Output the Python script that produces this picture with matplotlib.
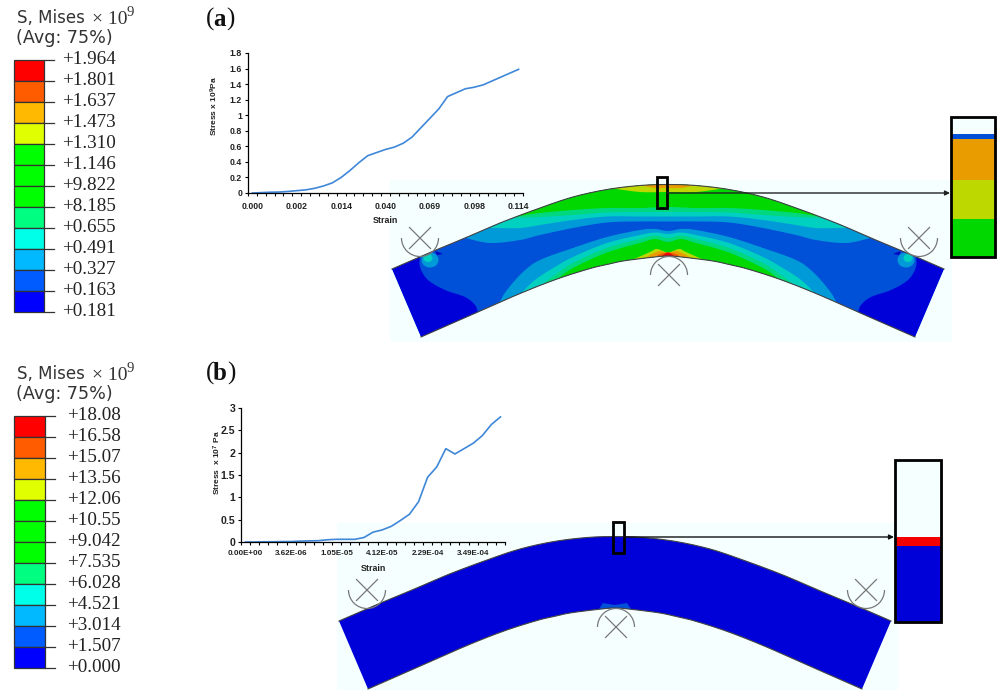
"""
Von Mises contour plots of the bent beam, with stress-strain insets
"""
import matplotlib
matplotlib.use('Agg')
import numpy as np
import matplotlib.pyplot as plt
import matplotlib.patches as patches

W, H = 998, 690

# ---- curve (a)
strain_a_ticks = ['0.000', '0.002', '0.014', '0.040', '0.069', '0.098', '0.114']
stress_a = [0.00, 0.005, 0.01, 0.012, 0.02, 0.03, 0.04, 0.06, 0.09, 0.13, 0.20,
            0.29, 0.39, 0.48, 0.52, 0.56, 0.59, 0.64, 0.72, 0.84, 0.96, 1.08,
            1.24, 1.29, 1.34, 1.36, 1.39, 1.44, 1.49, 1.54, 1.59]
yticks_a = [0, 0.2, 0.4, 0.6, 0.8, 1, 1.2, 1.4, 1.6, 1.8]

# ---- curve (b)
strain_b_ticks = ['0.00E+00', '3.62E-06', '1.05E-05', '4.12E-05', '2.29E-04', '3.49E-04']
stress_b = [0.0, 0.0, 0.005, 0.005, 0.01, 0.01, 0.02, 0.025, 0.03, 0.05, 0.06,
            0.06, 0.06, 0.10, 0.22, 0.27, 0.35, 0.48, 0.62, 0.90, 1.45, 1.68,
            2.09, 1.97, 2.09, 2.21, 2.38, 2.63, 2.80]
yticks_b = [0, 0.5, 1, 1.5, 2, 2.5, 3]

# ---- legends
labels_a = ['+1.964', '+1.801', '+1.637', '+1.473', '+1.310', '+1.146', '+9.822',
            '+8.185', '+0.655', '+0.491', '+0.327', '+0.163', '+0.181']
labels_b = ['+18.08', '+16.58', '+15.07', '+13.56', '+12.06', '+10.55', '+9.042',
            '+7.535', '+6.028', '+4.521', '+3.014', '+1.507', '+0.000']
legend_colors = ['#ff0000', '#ff5c00', '#ffb900', '#e0ff00', '#00ff00', '#00ff00',
                 '#00ff00', '#00ff80', '#00ffe8', '#00b9ff', '#005cff', '#0000ff']

# ---- beam outline, left half, image pixels of panel (a); right half is the mirror
CX = 668
top_edge = [(392, 269), (430, 252.5), (465, 238), (500, 223), (540, 208), (573, 197),
            (607, 189.5), (640, 185.5), (668, 184.5)]
bottom_edge = [(421, 337), (478, 312), (520, 293.5), (557, 279), (590, 268.5), (607, 264.5),
               (623, 261), (650, 257.5), (668, 256)]

# contour bands seen in the picture: boundary line, colour
upper_bands = [
    ([(465, 238), (490, 243), (520, 240), (540, 235), (573, 228), (607, 222.5), (640, 221.5),
      (668, 221.5)], '#009ad8'),
    ([(490, 228), (520, 228), (540, 225), (573, 220), (607, 216.5), (640, 216.5), (668, 216.5)], '#00d0c0'),
    ([(512, 218), (540, 217), (573, 215), (607, 212.5), (640, 212), (668, 212)], '#00d880'),
    ([(520, 216), (540, 213), (573, 210), (607, 208), (640, 208), (668, 207)], '#00d800'),
    ([(610, 188), (640, 192), (668, 192)], '#bcd800'),
    ([(640, 185), (655, 188), (668, 188)], '#e89c00'),
]
lower_bands = [
    ([(499, 303), (507, 290), (523, 272), (540, 260), (573, 248), (607, 237), (640, 230),
      (655, 229), (668, 231)], '#009ad8'),
    ([(520, 294), (535, 280), (550, 270), (573, 257), (607, 243), (640, 235), (655, 232.5),
      (668, 234)], '#00d0c0'),
    ([(540, 286), (555, 275), (573, 263), (607, 248), (640, 239), (655, 235.5), (668, 238)], '#00d880'),
    ([(557, 279), (573, 268), (607, 252.5), (640, 243), (655, 239), (668, 242)], '#00d800'),
    ([(632, 260), (650, 252), (657, 249), (668, 252.5)], '#bcd800'),
    ([(645, 258), (652, 254), (660, 251), (668, 253)], '#e89c00'),
    ([(654, 258), (660, 254), (668, 252.5)], '#f05a00'),
    ([(660, 258), (664, 254.5), (668, 252.5)], '#f00000'),
]
dark_curve = [(420, 255), (420, 267), (428, 280), (445, 290), (465, 297), (475, 305), (478, 313)]
streak = [(435, 251), (443, 254), (437, 255)]

plt.rcParams['font.family'] = ['DejaVu Sans']
plt.rcParams['mathtext.default'] = 'regular'
fig = plt.figure(figsize=(W / 100, H / 100), dpi=100, facecolor='white')

ax = fig.add_axes([0, 0, 1, 1])
ax.set_xlim(0, W)
ax.set_ylim(H, 0)
ax.axis('off')


def mirror(pts):
    return [(2 * CX - x, y) for x, y in pts]


def shift(pts, dx, dy):
    return [(x + dx, y + dy) for x, y in pts]


# catmull-rom, only to round the traced outlines
def smooth(pts, n=10):
    p = np.array(pts, dtype=float)
    p = np.vstack([2 * p[0] - p[1], p, 2 * p[-1] - p[-2]])
    out = []
    for i in range(1, len(p) - 2):
        for t in np.linspace(0, 1, n, endpoint=False):
            out.append(0.5 * (2 * p[i] + (p[i + 1] - p[i - 1]) * t
                              + (2 * p[i - 1] - 5 * p[i] + 4 * p[i + 1] - p[i + 2]) * t ** 2
                              + (3 * p[i] - p[i - 1] - 3 * p[i + 1] + p[i + 2]) * t ** 3))
    out.append(p[-2])
    return [tuple(q) for q in out]


def full_arc(half):
    return smooth(half + mirror(half)[::-1][1:])


def draw_region(boundary, close_y, color, clip):
    pts = full_arc(boundary)
    pts = pts + [(pts[-1][0], close_y), (pts[0][0], close_y)]
    p = patches.Polygon(pts, closed=True, facecolor=color, edgecolor='none', zorder=3)
    ax.add_patch(p)
    p.set_clip_path(clip)


def draw_support(x, y, upward):
    t1, t2 = (180, 360) if upward else (0, 180)
    ax.add_patch(patches.Arc((x, y), 37, 37, theta1=t1, theta2=t2, color='#777777', lw=0.9, zorder=5))
    ax.plot([x - 10.5, x + 10.5], [y - 10.5, y + 10.5], color='#777777', lw=0.9, zorder=5)
    ax.plot([x - 10.5, x + 10.5], [y + 10.5, y - 10.5], color='#777777', lw=0.9, zorder=5)


def draw_beam(dx, dy, detailed):
    top = full_arc(top_edge)
    bottom = full_arc(bottom_edge)
    base = '#0050d8' if detailed else '#0000d8'
    beam = patches.Polygon(shift(top + bottom[::-1], dx, dy), closed=True, facecolor=base,
                           edgecolor='none', zorder=2)
    ax.add_patch(beam)
    if detailed:
        for boundary, color in upper_bands:
            draw_region(boundary, 100, color, beam)
        for boundary, color in lower_bands:
            draw_region(boundary, 400, color, beam)
        dark_end = [(392, 269)] + smooth(dark_curve) + [(421, 337)]
        for pts in (dark_end, mirror(dark_end)):
            p = patches.Polygon(pts, closed=True, facecolor='#0000d8', edgecolor='none', zorder=3)
            ax.add_patch(p)
            p.set_clip_path(beam)
        for sx, sign in ((430, 1), (906, -1)):
            for ex, ey, ew, eh, color in ((sx, 260, 17, 15, '#009ad8'),
                                          (sx - 2 * sign, 258, 9, 8, '#00d0c0')):
                e = patches.Ellipse((ex, ey), ew, eh, facecolor=color, edgecolor='none', zorder=3)
                ax.add_patch(e)
                e.set_clip_path(beam)
        for pts in (streak, mirror(streak)):
            ax.add_patch(patches.Polygon(pts, closed=True, facecolor='#0000c0',
                                         edgecolor='none', zorder=3))
    else:
        lobe = [(597, 612), (603, 603), (615, 605), (627, 603), (633, 612)]
        p = patches.Polygon(lobe, closed=True, facecolor='#0050d8', edgecolor='none', zorder=3)
        ax.add_patch(p)
        p.set_clip_path(beam)
    for edge in (top, bottom):
        xs, ys = zip(*shift(edge, dx, dy))
        ax.plot(xs, ys, color='#444444', lw=0.8, zorder=4)
    draw_support(420 + dx, 238 + dy, False)
    draw_support(919 + dx, 238 + dy, False)
    draw_support(669 + dx, 275 + dy, True)


def draw_legend(top, right, tick_end, label_x, labels):
    cell = 21
    left = right - 30.5
    for i, c in enumerate(legend_colors):
        ax.add_patch(patches.Rectangle((left, top + i * cell), right - left, cell,
                                       facecolor=c, edgecolor='#333333', lw=0.9, zorder=3))
    for i, lab in enumerate(labels):
        y = top + i * cell
        ax.plot([right, tick_end], [y, y], color='#333333', lw=0.9, zorder=3)
        ax.text(label_x, y - 0.5, lab, family='Liberation Serif', fontsize=13.8,
                color='#222222', va='center', ha='left')
    ax.text(17, top - 42, 'S, Mises', fontsize=12, color='#333333', va='center')
    ax.text(92, top - 41, '× 10', family='Liberation Serif', fontsize=14, color='#333333', va='center')
    ax.text(127, top - 47, '9', family='Liberation Serif', fontsize=10.5, color='#333333', va='center')
    ax.text(16, top - 22, '(Avg: 75%)', fontsize=12.6, color='#333333', va='center')


def draw_zoom_box(x0, x1, bands):
    ax.add_patch(patches.Rectangle((x0 + 2, bands[0][0] + 2), x1 - x0, bands[-1][1] - bands[0][0],
                                   facecolor='#999999', edgecolor='none', alpha=0.5, zorder=5))
    for y0, y1, c in bands:
        ax.add_patch(patches.Rectangle((x0, y0), x1 - x0, y1 - y0, facecolor=c,
                                       edgecolor='none', zorder=6))
    ax.add_patch(patches.Rectangle((x0, bands[0][0]), x1 - x0, bands[-1][1] - bands[0][0],
                                   facecolor='none', edgecolor='black', lw=2, zorder=7))


def draw_curve(box, values, ticks, yticks, ymax, ylab, ylab_x, ylab_y, xsize, ysize):
    x0, x1, y_top, y_zero = box
    a = fig.add_axes([x0 / W, 1 - y_zero / H, (x1 - x0) / W, (y_zero - y_top) / H])
    a.patch.set_alpha(0)
    a.set_zorder(5)
    n = len(values)
    a.plot([i + 0.5 for i in range(n)], values, color='#3f87d8', lw=1.2, solid_joinstyle='round')
    a.set_xlim(0, n)
    a.set_ylim(0, ymax)
    a.spines['top'].set_visible(False)
    a.spines['right'].set_visible(False)
    a.spines['left'].set_linewidth(0.9)
    a.spines['bottom'].set_linewidth(0.9)
    a.set_xticks(range(n + 1))
    a.set_xticklabels([])
    a.set_yticks(yticks)
    a.set_yticklabels([str(v) for v in yticks], family='Liberation Sans', fontweight='bold',
                      fontsize=ysize, color='#222222')
    a.tick_params(axis='both', length=2.2, width=0.8, pad=2)
    for i, t in enumerate(ticks):
        a.text(i * 5 + 0.5, -0.063, t, transform=a.get_xaxis_transform(), ha='center', va='top',
               family='Liberation Sans', fontweight='bold', fontsize=xsize, color='#222222')
    a.text(0.5, -0.165, 'Strain', transform=a.transAxes, ha='center', va='top',
           family='Liberation Sans', fontweight='bold', fontsize=6.4, color='#222222')
    ax.text(ylab_x, ylab_y, ylab, rotation=90, ha='center', va='center', family='Liberation Sans',
            fontweight='bold', fontsize=6, color='#222222', zorder=8)


# pale background of the contour pictures
ax.add_patch(patches.Rectangle((390, 180), 562, 162, facecolor='#f6ffff', edgecolor='none', zorder=1))
ax.add_patch(patches.Rectangle((337, 523), 561, 167, facecolor='#f6ffff', edgecolor='none', zorder=1))

# panel (a)
draw_legend(60, 44.5, 54, 62, labels_a)
ax.text(206, 19, '(', family='Liberation Serif', fontsize=18, va='center', color='#111111')
ax.text(213, 19, 'a', family='Liberation Serif', fontweight='bold', fontsize=18, va='center', color='#111111')
ax.text(226, 19, ')', family='Liberation Serif', fontsize=18, va='center', color='#111111')
draw_beam(0, 0, True)
ax.add_patch(patches.Rectangle((657, 177), 10, 31, facecolor='none', edgecolor='black', lw=2, zorder=8))
ax.annotate('', xy=(950, 193), xytext=(667, 193), zorder=8,
            arrowprops=dict(arrowstyle='-|>', color='#222222', lw=1, shrinkA=0, shrinkB=0, mutation_scale=7))
draw_zoom_box(951, 995, [(117, 134, '#f6ffff'), (134, 139, '#0050d8'), (139, 180, '#e89c00'),
                         (180, 219, '#bcd800'), (219, 257, '#00d800')])
draw_curve((248, 523, 53, 193), stress_a, strain_a_ticks, yticks_a, 1.8,
           'Stress x 10$^{9}$Pa', 214, 106, 6.3, 6.3)

# panel (b)
draw_legend(416, 45, 55, 67, labels_b)
ax.text(206, 373, '(', family='Liberation Serif', fontsize=18, va='center', color='#111111')
ax.text(213, 373, 'b', family='Liberation Serif', fontweight='bold', fontsize=18, va='center', color='#111111')
ax.text(227, 373, ')', family='Liberation Serif', fontsize=18, va='center', color='#111111')
draw_beam(-53, 352, False)
ax.add_patch(patches.Rectangle((613, 522), 11, 31, facecolor='none', edgecolor='black', lw=2, zorder=8))
ax.annotate('', xy=(894, 537), xytext=(624, 537), zorder=8,
            arrowprops=dict(arrowstyle='-|>', color='#111111', lw=1, shrinkA=0, shrinkB=0, mutation_scale=7))
draw_zoom_box(895, 941, [(460, 537, '#f6ffff'), (537, 546, '#f40000'), (546, 622, '#0000d8')])
draw_curve((241, 505, 408, 542), stress_b, strain_b_ticks, yticks_b, 3,
           'Stress  x 10$^{7}$ Pa', 217, 463, 5.8, 7.6)

plt.savefig('out.png', dpi=100)
